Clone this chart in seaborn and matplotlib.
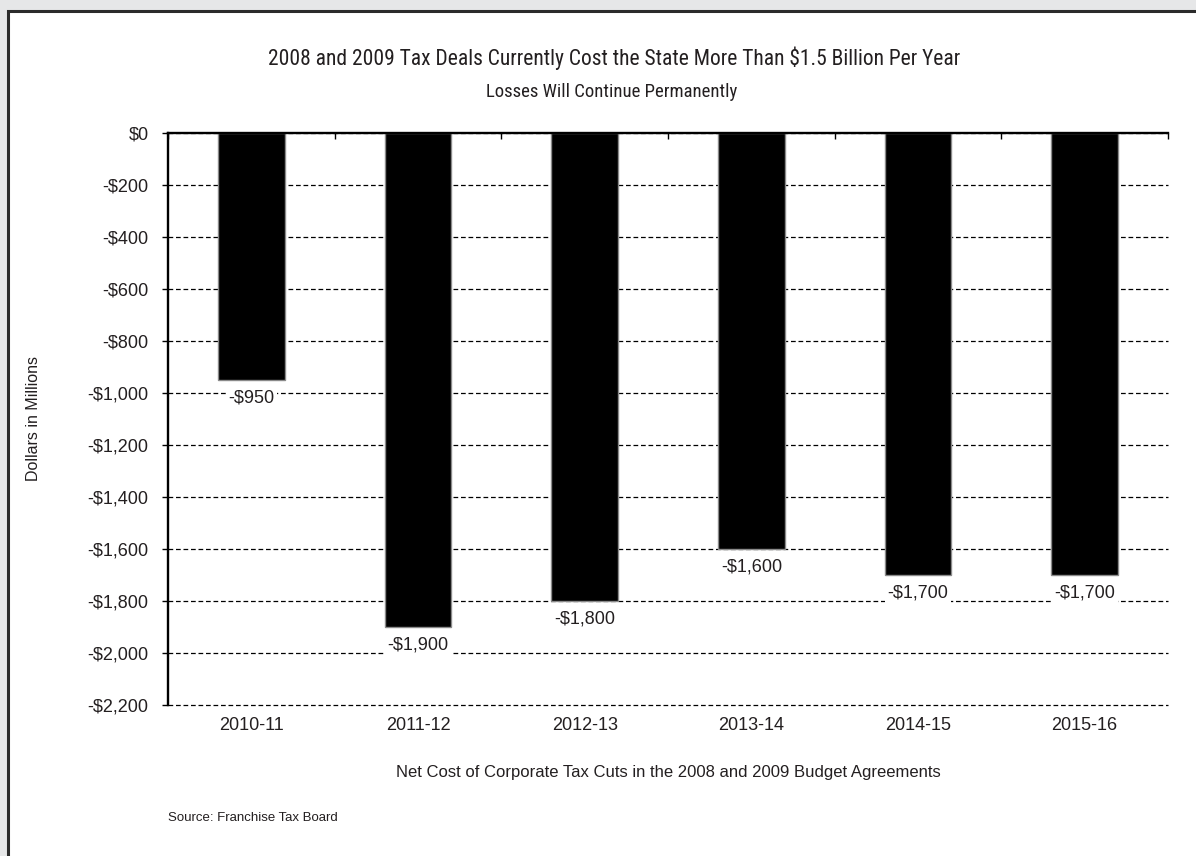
import matplotlib
matplotlib.use("Agg")
import matplotlib.pyplot as plt
from matplotlib import font_manager
from matplotlib.patches import Rectangle
from matplotlib.ticker import FixedLocator, FuncFormatter
import seaborn as sns
import pandas as pd

# Fiscal years and net cost (millions of dollars)
years = ["2010-11", "2011-12", "2012-13", "2013-14", "2014-15", "2015-16"]
cost = [-950, -1900, -1800, -1600, -1700, -1700]
y_ticks = list(range(0, -2201, -200))

title = "2008 and 2009 Tax Deals Currently Cost the State More Than $1.5 Billion Per Year"
subtitle = "Losses Will Continue Permanently"
x_label = "Net Cost of Corporate Tax Cuts in the 2008 and 2009 Budget Agreements"
y_label = "Dollars in Millions"
source = "Source: Franchise Tax Board"

sns.set_theme(style="white")
plt.rcParams["font.family"] = ["Liberation Sans", "DejaVu Sans"]
plt.rcParams["lines.scale_dashes"] = False


def pick_font(names):
    for n in names:
        try:
            font_manager.findfont(n, fallback_to_default=False)
            return n
        except Exception:
            continue
    return "DejaVu Sans"


narrow = pick_font(["Liberation Sans Narrow", "Roboto Condensed", "Open Sans Condensed", "Liberation Sans"])
ink = "#231f20"

W, H = 1196, 856
fig = plt.figure(figsize=(W / 100, H / 100), dpi=100, facecolor="#e6e7e8")

# white panel with a dark frame
fig.patches.append(Rectangle((8 / W, -0.2), 1.2, 1.2 - 11 / H,
                             transform=fig.transFigure, facecolor="white",
                             edgecolor="#2b2b2b", linewidth=2.2, zorder=-5))

ax = fig.add_axes([168 / W, 1 - 705 / H, 1000 / W, 572 / H])
ax.set_facecolor("none")
ax.set_zorder(2)

df = pd.DataFrame({"year": years, "cost": cost})
sns.barplot(data=df, x="year", y="cost", color="black", width=0.4,
            edgecolor="#8a8a8a", linewidth=1.0, saturation=1, ax=ax, zorder=3)

ax.set_ylim(-2200, 0)
ax.set_xlim(-0.5, len(years) - 0.5)
ax.yaxis.set_major_locator(FixedLocator(y_ticks))
ax.yaxis.set_major_formatter(FuncFormatter(
    lambda v, p: "$0" if v == 0 else f"-${abs(int(v)):,}"))

ax.yaxis.grid(True, color="black", linewidth=0.9, linestyle=(0, (3.4, 2.0)), zorder=1)
ax.set_axisbelow(True)

for s in ["right", "bottom"]:
    ax.spines[s].set_visible(False)
for s in ["left", "top"]:
    ax.spines[s].set_color("black")
    ax.spines[s].set_linewidth(1.7)
    ax.spines[s].set_zorder(5)

ax.tick_params(axis="y", which="major", left=True, direction="out", length=4,
               width=1, color="black", labelsize=13, labelcolor=ink, pad=10)
ax.xaxis.set_minor_locator(FixedLocator([i - 0.5 for i in range(len(years) + 1)]))
ax.tick_params(axis="x", which="minor", top=True, bottom=False, direction="in",
               length=4, width=1, color="black")
ax.tick_params(axis="x", which="major", bottom=True, length=0, labelsize=13,
               labelcolor=ink, pad=9)
ax.set_xlabel("")
ax.set_ylabel("")

# value labels under each bar
for i, v in enumerate(cost):
    ax.annotate(f"-${abs(v):,}", xy=(i, v), xytext=(0, -13), textcoords="offset points",
                ha="center", va="center", fontsize=13, color=ink, zorder=6,
                bbox=dict(boxstyle="square,pad=0.15", facecolor="white", edgecolor="none"))

fig.canvas.draw()
for gl in ax.get_ygridlines():
    gl.set_clip_on(False)

fig.text(614 / W, 1 - 58 / H, title, ha="center", va="center", fontsize=15.5,
         family=narrow, color=ink)
fig.text(612 / W, 1 - 92 / H, subtitle, ha="center", va="center", fontsize=13.5,
         family=narrow, color=ink)
fig.text(668 / W, 1 - 773 / H, x_label, ha="center", va="center", fontsize=12,
         color=ink)
fig.text(33 / W, 1 - 419 / H, y_label, ha="center", va="center", fontsize=11.5,
         rotation=90, color=ink)
fig.text(168 / W, 1 - 818 / H, source, ha="left", va="center", fontsize=9.5,
         color=ink)

fig.savefig("out.png", dpi=100, facecolor=fig.get_facecolor())
